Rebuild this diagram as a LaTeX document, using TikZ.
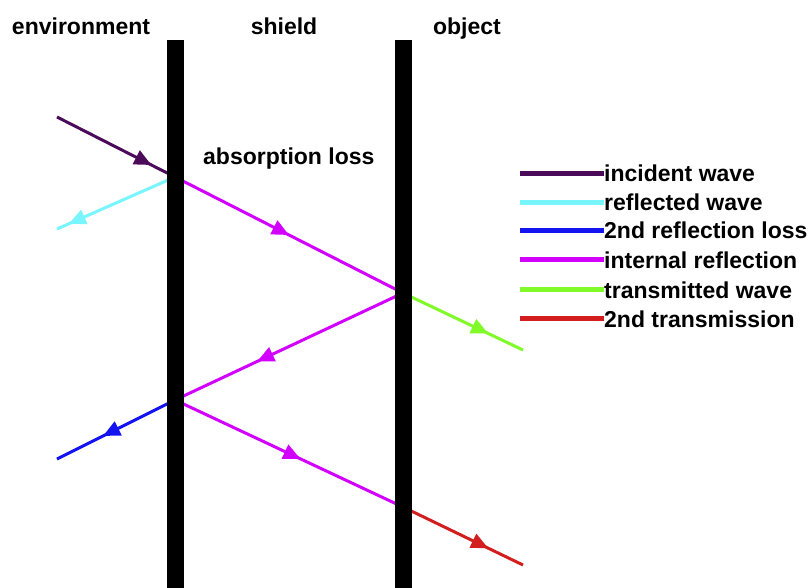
\documentclass[tikz,border=0pt]{standalone}
\usepackage{fontspec}
\setmainfont{Liberation Sans}
\usepackage{tikz}
\usetikzlibrary{positioning,arrows.meta,decorations.markings}
\definecolor{incidentc}{RGB}{75,10,90}
\definecolor{reflectc}{RGB}{120,245,255}
\definecolor{lossc}{RGB}{20,20,240}
\definecolor{internalc}{RGB}{210,0,255}
\definecolor{transc}{RGB}{128,250,40}
\definecolor{secondc}{RGB}{210,30,30}

\begin{document}
\begin{tikzpicture}[x=1pt, y=-1pt,
        lbl/.style={font=\fontsize{23}{25}\selectfont\bfseries, inner sep=0pt},
        wave/.style={line width=3pt},
        midarr/.style={postaction={decorate}, decoration={markings,
                       mark=at position #1 with {\arrow{Triangle[length=17pt,width=15pt]}}}},
        key/.style={line width=5pt},
        bar/.style={fill=black, minimum width=17pt, minimum height=548pt, inner sep=0pt}
    ]
    \useasboundingbox (0,0) rectangle (811,588);
    % hit points on the two walls
    \coordinate (hit1) at (175,177);
    \coordinate (hit2) at (403,293);
    \coordinate (hit3) at (175,400);
    \coordinate (hit4) at (403,507);
    \coordinate (incA) at (57,117);
    \coordinate (reflB) at (57,229);
    \coordinate (transB) at (523,350);
    \coordinate (lossB) at (57,459);
    \coordinate (secB) at (523,565);
    \draw[wave, incidentc, midarr=0.8] (incA) -- (hit1);
    \draw[wave, reflectc, midarr=0.9] (hit1) -- (reflB);
    \draw[wave, internalc, midarr=0.5] (hit1) -- (hit2);
    \draw[wave, transc, midarr=0.71] (hit2) -- (transB);
    \draw[wave, internalc, midarr=0.64] (hit2) -- (hit3);
    \draw[wave, lossc, midarr=0.61] (hit3) -- (lossB);
    \draw[wave, internalc, midarr=0.55] (hit3) -- (hit4);
    \draw[wave, secondc, midarr=0.71] (hit4) -- (secB);
    % walls
    \node[bar] (shield) at (175.5,314) {};
    \node[bar] (object) at (403,314) {};
    \node[lbl, anchor=base] (envlbl) at (81,35) {environment};
    \node[lbl, anchor=base] (shieldlbl) at (284,35) {shield};
    \node[lbl, anchor=base] (objectlbl) at (467,35) {object};
    \node[lbl, anchor=base west] (abslbl) at (203,165) {absorption loss};
    % legend
    \node[lbl, anchor=base west] (kinc) at (604,182) {incident wave};
    \node[lbl, anchor=base west] (krefl) at (604,211) {reflected wave};
    \node[lbl, anchor=base west] (kloss) at (604,239) {2nd reflection loss};
    \node[lbl, anchor=base west] (kint) at (604,268) {internal reflection};
    \node[lbl, anchor=base west] (ktrans) at (604,298) {transmitted wave};
    \node[lbl, anchor=base west] (ksec) at (604,327) {2nd transmission};
    \draw[key, incidentc] (kinc.west) -- ++(-84,0);
    \draw[key, reflectc] (krefl.west) -- ++(-84,0);
    \draw[key, lossc] (kloss.west) -- ++(-84,0);
    \draw[key, internalc] (kint.west) -- ++(-84,0);
    \draw[key, transc] (ktrans.west) -- ++(-84,0);
    \draw[key, secondc] (ksec.west) -- ++(-84,0);
\end{tikzpicture}
\end{document}
